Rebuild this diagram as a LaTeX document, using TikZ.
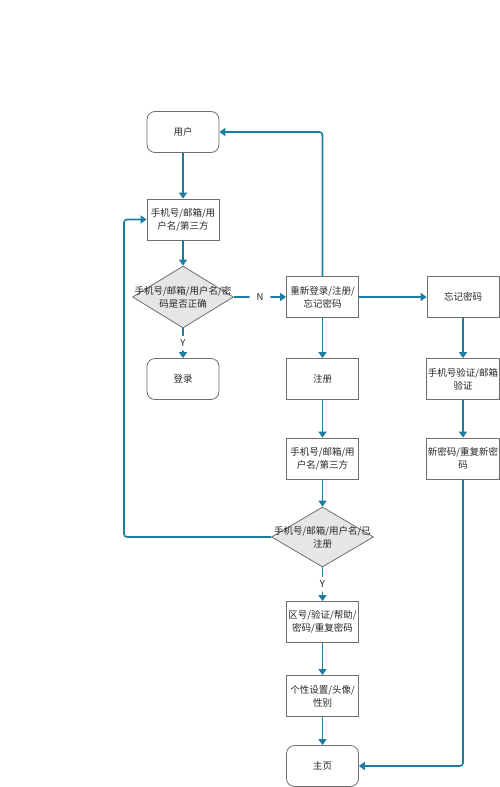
\documentclass[tikz,border=0pt]{standalone}
\usepackage{fontspec}
\setmainfont{Noto Sans CJK SC}
\usetikzlibrary{shapes.geometric,arrows.meta}
\definecolor{flow}{RGB}{28,125,160}
\definecolor{bordr}{RGB}{110,110,110}
\definecolor{dfill}{RGB}{230,230,230}
\begin{document}
\begin{tikzpicture}[x=1pt,y=-1pt,
  every node/.style={font=\fontsize{9.5}{13}\selectfont, text=black!85, align=center},
  proc/.style={draw=bordr, line width=0.8pt, fill=white, minimum width=72pt, minimum height=41pt, inner sep=1pt},
  term/.style={proc, rounded corners=8pt},
  dec/.style={diamond, draw=bordr, line width=0.8pt, fill=dfill, minimum width=101pt, minimum height=62pt, inner sep=0pt},
  conn/.style={draw=flow, line width=1.6pt, -{Triangle[width=8pt,length=6pt]}, rounded corners=3pt},
  lab/.style={fill=white, inner xsep=7pt, inner ysep=4pt}]
\useasboundingbox (0,0) rectangle (500,787);
% left column
\node[term] (user) at (183,132) {用户};
\node[proc] (in1) at (183,219.5) {手机号/邮箱/用\\户名/第三方};
\node[dec, label={[align=center]center:手机号/邮箱/用户名/密\\码是否正确}] (chk1) at (183,297) {};
\node[term] (login) at (183,379) {登录};
% middle column
\node[proc] (retry) at (322.5,297) {重新登录/注册/\\忘记密码};
\node[proc] (reg) at (322.5,379) {注册};
\node[proc] (in2) at (322.5,458.5) {手机号/邮箱/用\\户名/第三方};
\node[dec, minimum width=102pt, minimum height=60pt, label={[align=center]center:手机号/邮箱/用户名/已\\注册}] (chk2) at (322.5,537) {};
\node[proc] (area) at (322.5,622) {区号/验证/帮助/\\密码/重复密码};
\node[proc] (prof) at (322.5,696) {个性设置/头像/\\性别};
\node[term] (home) at (322.5,766) {主页};
% right column
\node[proc] (forgot) at (463,297) {忘记密码};
\node[proc] (verify) at (463,379) {手机号验证/邮箱\\验证};
\node[proc] (newpw) at (463,458.5) {新密码/重复新密\\码};
\coordinate (leftrail) at (124,400);
% connectors
\draw[conn] (user) -- (in1);
\draw[conn] (in1) -- (chk1);
\draw[conn] (chk1) -- node[lab]{Y} (login);
\draw[conn] (chk1) -- node[lab]{N} (retry);
\draw[conn] (retry) -- (forgot);
\draw[conn] (retry) -- (reg);
\draw[conn] (retry.north) |- (user.east);
\draw[conn] (reg) -- (in2);
\draw[conn] (in2) -- (chk2);
\draw[conn] (chk2.west) -| (leftrail) |- (in1.west);
\draw[conn] (chk2) -- node[lab]{Y} (area);
\draw[conn] (area) -- (prof);
\draw[conn] (prof) -- (home);
\draw[conn] (forgot) -- (verify);
\draw[conn] (verify) -- (newpw);
\draw[conn] (newpw.south) |- (home.east);
\end{tikzpicture}
\end{document}
